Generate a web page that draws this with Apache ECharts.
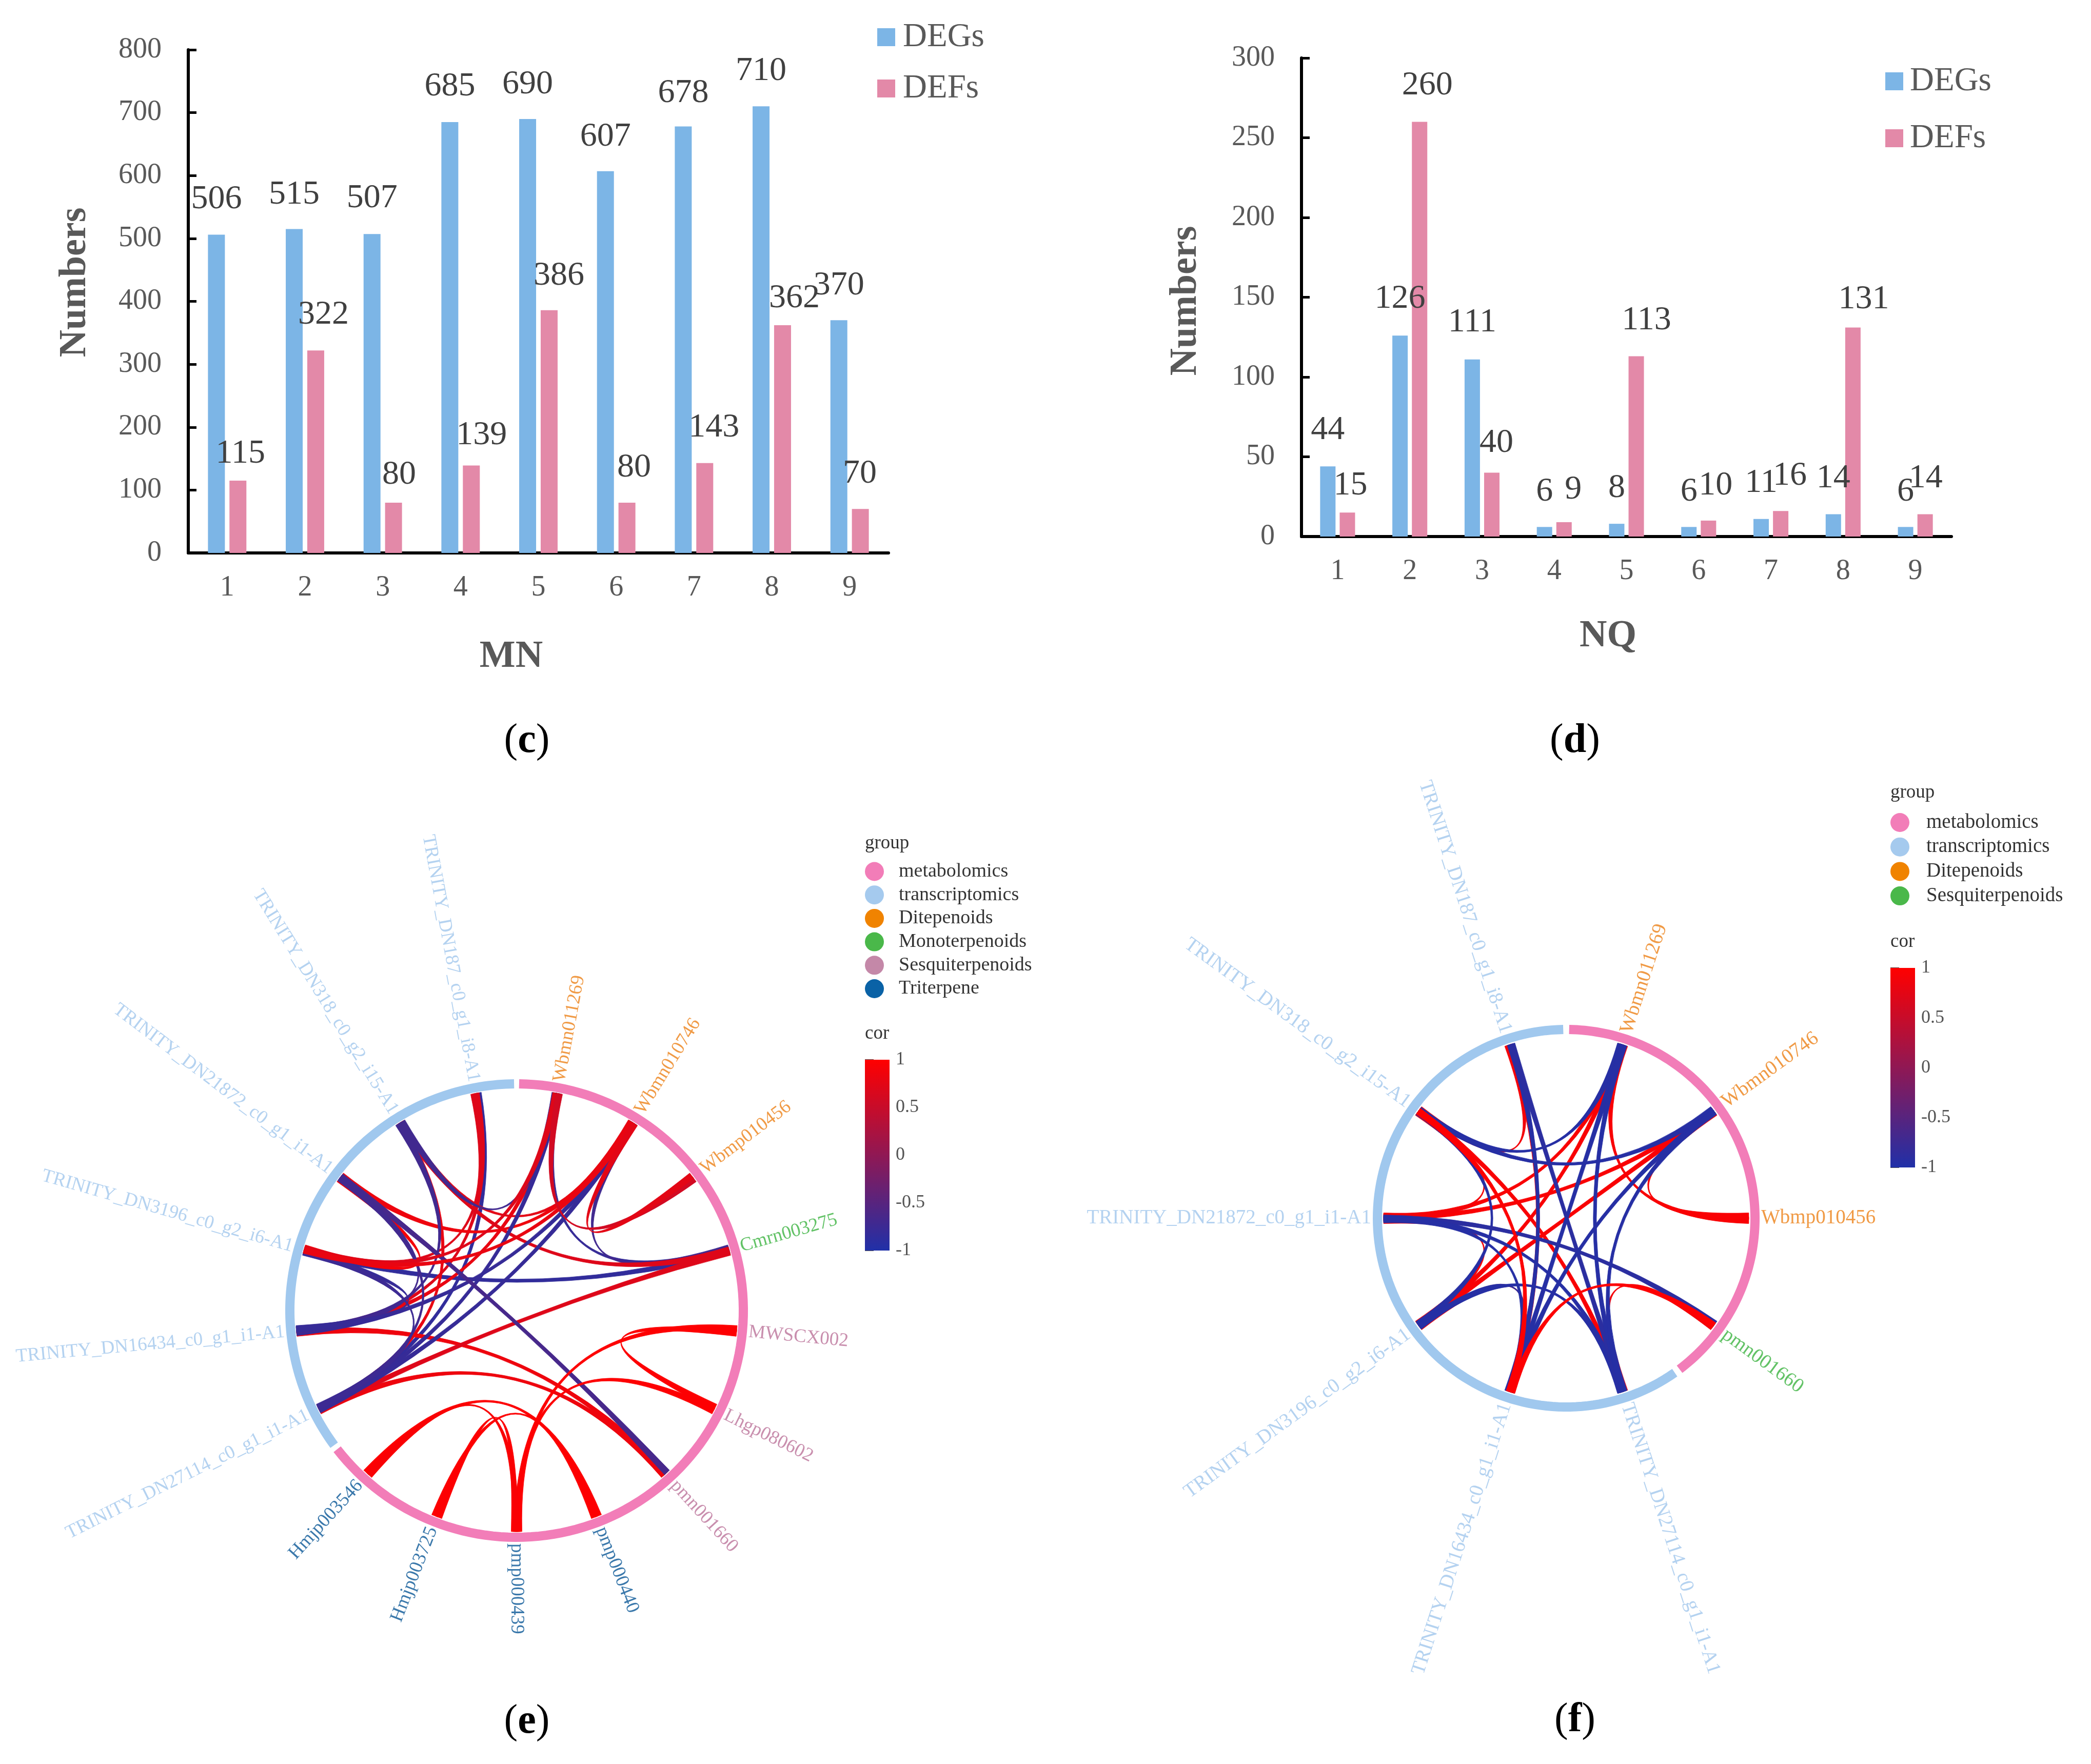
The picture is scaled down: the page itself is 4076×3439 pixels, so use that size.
<!DOCTYPE html>
<html><head><meta charset="utf-8">
<style>html,body{margin:0;padding:0;background:#fff}#c{width:4076px;height:3439px}</style>
<script src="https://cdn.jsdelivr.net/npm/echarts@6/dist/echarts.min.js"></script>
</head><body><div id="c"></div>
<script>
const categories = ['1','2','3','4','5','6','7','8','9'];
const mnDEGs = [506,515,507,685,690,607,678,710,370];
const mnDEFs = [115,322,80,139,386,80,143,362,70];
const nqDEGs = [44,126,111,6,8,6,11,14,6];
const nqDEFs = [15,260,40,9,113,10,16,131,14];

const nodesE = ['Wbmn011269','Wbmn010746','Wbmp010456','Cmrn003275','MWSCX002','Lhgp080602','pmn001660','pmp000440','pmp000439','Hmjp003725','Hmjp003546','TRINITY_DN27114_c0_g1_i1-A1','TRINITY_DN16434_c0_g1_i1-A1','TRINITY_DN3196_c0_g2_i6-A1','TRINITY_DN21872_c0_g1_i1-A1','TRINITY_DN318_c0_g2_i15-A1','TRINITY_DN187_c0_g1_i8-A1'];
const classesE = ['Ditepenoids','Ditepenoids','Ditepenoids','Monoterpenoids','Sesquiterpenoids','Sesquiterpenoids','Sesquiterpenoids','Triterpene','Triterpene','Triterpene','Triterpene','t','t','t','t','t','t'];
const nodesF = ['Wbmn011269','Wbmn010746','Wbmp010456','pmn001660','TRINITY_DN27114_c0_g1_i1-A1','TRINITY_DN16434_c0_g1_i1-A1','TRINITY_DN3196_c0_g2_i6-A1','TRINITY_DN21872_c0_g1_i1-A1','TRINITY_DN318_c0_g2_i15-A1','TRINITY_DN187_c0_g1_i8-A1'];
const classesF = ['Ditepenoids','Ditepenoids','Ditepenoids','Sesquiterpenoids','t','t','t','t','t','t'];

const linksE = [
 ['003275','011269',-.8],['003275','010746',-.7],['003275','DN3196',-.85],['DN187','DN27114',-.85],
 ['DN21872','DN3196',.9],['011269','DN16434',.8],['DN318','DN27114',.8],['DN187','DN16434',.7],['DN187','DN3196',.7],
 ['001660','DN16434',.85],['001660','DN27114',.85],['003275','DN27114',.7],['003275','DN318',.7],
 ['010746','DN318',.75],['010746','DN21872',.85],
 ['011269','DN318',-.7],['011269','DN27114',-.8],['010746','DN27114',-.8],['010746','DN16434',-.8],
 ['DN318','DN16434',-.7],['DN21872','001660',-.65],['DN21872','DN27114',-.7],['DN21872','DN16434',-.7],
 ['DN3196','DN16434',-.8],['DN3196','DN27114',-.75],
 ['011269','DN3196',.7],['010746','DN3196',.8],['010456','011269',.6],['010456','010746',.75],
 ['080602','MWSCX',.98],['MWSCX','000439',.98],['080602','000439',.98],
 ['000440','003546',.98],['000440','003725',.98],['000439','003725',.98],['000439','003546',.95]
];
const linksF = [
 ['010456','011269',.95],['010456','010746',.95],['DN21872','011269',.95],['DN21872','010746',.95],
 ['DN3196','011269',.95],['DN3196','010746',.95],['DN187','DN318',.9],['DN21872','DN318',.9],['DN21872','DN3196',.9],
 ['DN27114','001660',.9],['DN16434','DN3196',.9],['DN187','DN16434',.9],
 ['DN318','011269',-.95],['DN318','010746',-.95],['DN318','DN3196',-.95],['DN318','DN27114',.95],
 ['DN21872','001660',-.9],['DN21872','DN27114',-.95],['DN21872','DN16434',-.95],['DN3196','DN27114',-.95],['DN3196','DN16434',-.95],
 ['DN187','DN16434',-.95],['DN187','DN27114',-.9],['DN16434','011269',-.95],['DN16434','010746',-.95],
 ['DN27114','011269',-.95],['DN27114','010746',-.95],
 ['DN318','DN16434',.98],['DN16434','001660',.98]
];

const corTicks = [-1,-0.5,0,0.5,1];
const legendE = ['metabolomics','transcriptomics','Ditepenoids','Monoterpenoids','Sesquiterpenoids','Triterpene'];
const legendF = ['metabolomics','transcriptomics','Ditepenoids','Sesquiterpenoids'];

/* styling below */
const SERIF = '"Liberation Serif"';
const BLUE = '#7cb5e6', PINK = '#e389a8';
const PINK_RING = '#f27db8', BLUE_RING = '#a0c8ee';
const legendColorsE = {metabolomics:PINK_RING,transcriptomics:'#a5caee',Ditepenoids:'#f08300',Monoterpenoids:'#4ab84a',Sesquiterpenoids:'#c488a8',Triterpene:'#0a62a6'};
const legendColorsF = {metabolomics:PINK_RING,transcriptomics:'#a5caee',Ditepenoids:'#f08300',Sesquiterpenoids:'#4ab84a'};
const textE = {Ditepenoids:'#f09a45',Monoterpenoids:'#62c266',Sesquiterpenoids:'#c98fae',Triterpene:'#3a78ab',t:'#b4d2f0'};
const textF = {Ditepenoids:'#f09a45',Sesquiterpenoids:'#62c266',t:'#b4d2f0'};
/* label nudges [dx, dy] in px */
const nudgeMnDEG = [[0,-36],[0,-34],[0,-37],[0,-36],[0,-34],[0,-34],[0,-32],[0,-36],[0,-35]];
const nudgeMnDEF = [[5,-19],[15,-36],[11,-21],[20,-26],[19,-34],[14,-35],[18,-36],[23,-19],[-1,-35]];
const nudgeNqDEG = [[0,-37],[0,-38],[0,-39],[0,-36],[0,-36],[0,-36],[0,-37],[0,-37],[0,-36]];
const nudgeNqDEF = [[6,-20],[15,-38],[9,-25],[18,-30],[20,-37],[14,-35],[18,-36],[21,-22],[1,-37]];

function barData(vals, nudges){
  return vals.map((v,i)=>({value:v,label:{offset:nudges[i]}}));
}
function barSeries(name,color,vals,nudges,axis,bw,gap){
  return {name,type:'bar',xAxisIndex:axis,yAxisIndex:axis,barWidth:bw,barGap:gap,
    itemStyle:{color},data:barData(vals,nudges),
    label:{show:true,position:'top',distance:0,fontFamily:SERIF,fontSize:66,color:'#404040'}};
}
function cartX(grid){
  return {type:'category',gridIndex:grid,data:categories,axisTick:{show:false},
    axisLine:{lineStyle:{color:'#000',width:6}},
    axisLabel:{fontFamily:SERIF,fontSize:56,color:'#595959',margin:40},splitLine:{show:false}};
}
function cartY(grid,max,interval){
  return {type:'value',gridIndex:grid,min:0,max,interval,
    axisLine:{show:true,lineStyle:{color:'#000',width:6}},
    axisTick:{show:true,inside:true,length:16,lineStyle:{color:'#000',width:5}},
    axisLabel:{fontFamily:SERIF,fontSize:56,color:'#595959',margin:52},splitLine:{show:false}};
}
const nameStyle = {fontFamily:SERIF,fontSize:74,fontWeight:'bold',color:'#595959'};

/* builds ribbon rows: s, s0, s1, t, t0, t1, cor */
function buildLinks(links,nodes,R,basePx){
  const n=nodes.length, idx=k=>nodes.findIndex(x=>x.includes(k));
  const rows=links.map(l=>({s:idx(l[0]),t:idx(l[1]),c:l[2]}));
  const base=basePx/R/(2*Math.PI)*n;
  for(let i=0;i<n;i++){
    const ends=[];
    rows.forEach(r=>{ if(r.s===i) ends.push([r,'a',(r.t-i+n)%n]); if(r.t===i) ends.push([r,'b',(r.s-i+n)%n]); });
    ends.sort((a,b)=>b[2]-a[2]);
    const k=ends.length;
    const w=k<=1?base:base*0.62;
    const span=base-w;
    ends.forEach((e,j)=>{ const o=k<=1?-base/2:-base/2+span*j/(k-1); e[0][e[1]]=[o,o+w]; });
  }
  return rows.map(r=>[r.s,r.a[0],r.a[1],r.t,r.b[0],r.b[1],r.c]);
}
function linkRender(rFrac){
  return function(params,api){
    const s=api.value(0)+0.5,s0=api.value(1),s1=api.value(2),t=api.value(3)+0.5,t0=api.value(4),t1=api.value(5);
    const P=(a)=>api.coord([rFrac,a]), C=api.coord([0,0]);
    const A0=P(s+s0),A1=P(s+s1),B0=P(t+t0),B1=P(t+t1);
    const f=p=>p[0].toFixed(2)+' '+p[1].toFixed(2), c=f(C);
    const d=`M${f(A0)} Q${c} ${f(B1)} L${f(B0)} Q${c} ${f(A1)} Z`;
    const color=api.visual('color');
    return {type:'path',shape:{pathData:d},style:{fill:color,stroke:color,lineWidth:0.8}};
  };
}
function ringSeries(poly,nodes,classes,rFrac,gap){
  const nMet=classes.filter(c=>c!=='t').length, n=nodes.length;
  return {type:'custom',coordinateSystem:'polar',polarIndex:poly,silent:true,
    data:[[0,nMet,0],[nMet,n,1]],
    renderItem(params,api){
      const a=api.value(0)+gap,b=api.value(1)-gap,pts=[];
      for(let i=0;i<=120;i++) pts.push(api.coord([rFrac,a+(b-a)*i/120]));
      return {type:'polyline',shape:{points:pts},style:{fill:null,stroke:api.value(2)?BLUE_RING:PINK_RING,lineWidth:18,lineCap:'butt'}};
    }};
}
function labelSeries(poly,nodes,classes,colors,fontPx,rFrac){
  const n=nodes.length;
  return {type:'custom',coordinateSystem:'polar',polarIndex:poly,silent:true,
    data:nodes.map((_,i)=>[i]),
    renderItem(params,api){
      const i=api.value(0),p=api.coord([rFrac,i+0.5]);
      const phi=(i+0.5)*360/n,right=phi<=180.01;
      const deg=right?90-phi:270-phi;
      return {type:'text',x:p[0],y:p[1],rotation:deg*Math.PI/180,
        style:{text:nodes[i],fill:colors[classes[i]],font:fontPx+'px '+SERIF,align:right?'left':'right',verticalAlign:'middle'}};
    }};
}
function colorBar(axis){
  return {type:'custom',coordinateSystem:'cartesian2d',xAxisIndex:axis,yAxisIndex:axis,silent:true,
    data:[[0,-1,1]],
    renderItem(params,api){
      const a=api.coord([0,1]),b=api.coord([1,-1]);
      return {type:'rect',shape:{x:a[0],y:a[1],width:b[0]-a[0],height:b[1]-a[1]},
        style:{fill:new echarts.graphic.LinearGradient(0,0,0,1,[{offset:0,color:'#ff0000'},{offset:1,color:'#2030a8'}])}};
    }};
}
function barGridAxes(grid){
  return [{type:'value',gridIndex:grid,min:0,max:1,show:false},
    {type:'value',gridIndex:grid,min:corTicks[0],max:corTicks[4],interval:0.5,position:'right',
     axisLine:{show:false},axisTick:{show:true,length:17,lineStyle:{color:'#555',width:2}},
     axisLabel:{fontFamily:SERIF,fontSize:36,color:'#555',margin:12},splitLine:{show:false}}];
}
function legendOf(names,colors,left,top,gap,size,textPad,font){
  return {orient:'vertical',left,top,icon:'circle',itemWidth:size,itemHeight:size,itemGap:gap,padding:0,selectedMode:false,
    textStyle:{fontFamily:SERIF,fontSize:font,color:'#333',padding:[0,0,0,textPad]},
    data:names.map(n=>({name:n,itemStyle:{color:colors[n],opacity:1}}))};
}
function barLegend(left,top,gap,textPad){
  return {orient:'vertical',left,top,icon:'rect',itemWidth:35,itemHeight:35,itemGap:gap,padding:0,selectedMode:false,
    textStyle:{fontFamily:SERIF,fontSize:65,color:'#595959',padding:[0,0,0,textPad]},
    data:[{name:'DEGs',itemStyle:{color:BLUE}},{name:'DEFs',itemStyle:{color:PINK}}]};
}
function cap(letter,x,y){
  return {type:'text',x,y,style:{text:'{n|(}{b|'+letter+'}{n|)}',align:'center',verticalAlign:'middle',
    rich:{n:{font:'80px '+SERIF,fill:'#000'},b:{font:'bold 80px '+SERIF,fill:'#000'}}}};
}
function head(text,x,y){
  return {type:'text',x,y,style:{text,font:'37px '+SERIF,fill:'#333',align:'left',verticalAlign:'middle'}};
}

const RE=451,RF=377;
const rowsE=buildLinks(linksE,nodesE,RE,22);
const rowsF=buildLinks(linksF,nodesF,RF,22);

const series=[
  barSeries('DEGs',BLUE,mnDEGs,nudgeMnDEG,0,33,'27%'),
  barSeries('DEFs',PINK,mnDEFs,nudgeMnDEF,0,33,'27%'),
  barSeries('DEGs',BLUE,nqDEGs,nudgeNqDEG,1,30,'27%'),
  barSeries('DEFs',PINK,nqDEFs,nudgeNqDEF,1,30,'27%'),
  ringSeries(0,nodesE,classesE,(RE-9)/RE,0.03),
  {type:'custom',coordinateSystem:'polar',polarIndex:0,silent:true,data:rowsE,renderItem:linkRender((RE-20)/RE)},
  labelSeries(0,nodesE,classesE,textE,37,(RE+3)/RE),
  ringSeries(1,nodesF,classesF,(RF-9)/RF,0.025),
  {type:'custom',coordinateSystem:'polar',polarIndex:1,silent:true,data:rowsF,renderItem:linkRender((RF-21)/RF)},
  labelSeries(1,nodesF,classesF,textF,39,(RF+3)/RF),
  colorBar(2),colorBar(3)
];
const linkSeriesIdx=[5,8];
legendE.forEach(n=>series.push({name:n,type:'scatter',xAxisIndex:0,yAxisIndex:0,data:[],itemStyle:{color:legendColorsE[n],opacity:1}}));

const xC=cartX(0),yC=cartY(0,800,100),xD=cartX(1),yD=cartY(1,300,50);
Object.assign(xC,{name:'MN',nameLocation:'middle',nameGap:166,nameTextStyle:{...nameStyle,padding:[0,106,0,0]}});
Object.assign(yC,{name:'Numbers',nameLocation:'middle',nameGap:183,nameTextStyle:{...nameStyle,padding:[0,0,0,74]}});
Object.assign(xD,{name:'NQ',nameLocation:'middle',nameGap:158,nameTextStyle:{...nameStyle,padding:[0,72,0,0]}});
Object.assign(yD,{name:'Numbers',nameLocation:'middle',nameGap:188,nameTextStyle:{...nameStyle,padding:[0,14,0,0]}});
const [bxE,byE]=barGridAxes(2),[bxF,byF]=barGridAxes(3);

const option={
  animation:false,backgroundColor:'#fff',
  grid:[
    {left:367,top:97,width:1365,height:981},
    {left:2537,top:113,width:1267,height:933},
    {left:1686,top:2066,width:48,height:372},
    {left:3685,top:1887,width:48,height:389}
  ],
  xAxis:[xC,xD,bxE,bxF],yAxis:[yC,yD,byE,byF],
  polar:[{center:[1007,2555],radius:[0,RE]},{center:[3053,2375],radius:[0,RF]}],
  angleAxis:[
    {polarIndex:0,type:'value',min:0,max:nodesE.length,startAngle:90,show:false},
    {polarIndex:1,type:'value',min:0,max:nodesF.length,startAngle:90,show:false}],
  radiusAxis:[{polarIndex:0,min:0,max:1,show:false},{polarIndex:1,min:0,max:1,show:false}],
  visualMap:[{show:false,type:'continuous',min:-1,max:1,dimension:6,seriesIndex:linkSeriesIdx,inRange:{color:['#2030a8','#ff0000']}}],
  legend:[
    barLegend(1710,40,35,10),barLegend(3675,126,46,8),
    legendOf(legendE,legendColorsE,1686,1680,7.7,37,24,38),
    legendOf(legendF,legendColorsF,3685,1584,8.7,37,28,39)
  ],
  graphic:{elements:[
    cap('c',1027,1445),cap('d',3070,1445),cap('e',1027,3357),cap('f',3070,3354),
    head('group',1686,1644),head('cor',1686,2015),head('group',3685,1545),head('cor',3685,1836)
  ]},
  series
};
const chart=echarts.init(document.getElementById('c'),null,{renderer:'canvas',width:4076,height:3439,devicePixelRatio:1});
chart.setOption(option);
</script></body></html>
